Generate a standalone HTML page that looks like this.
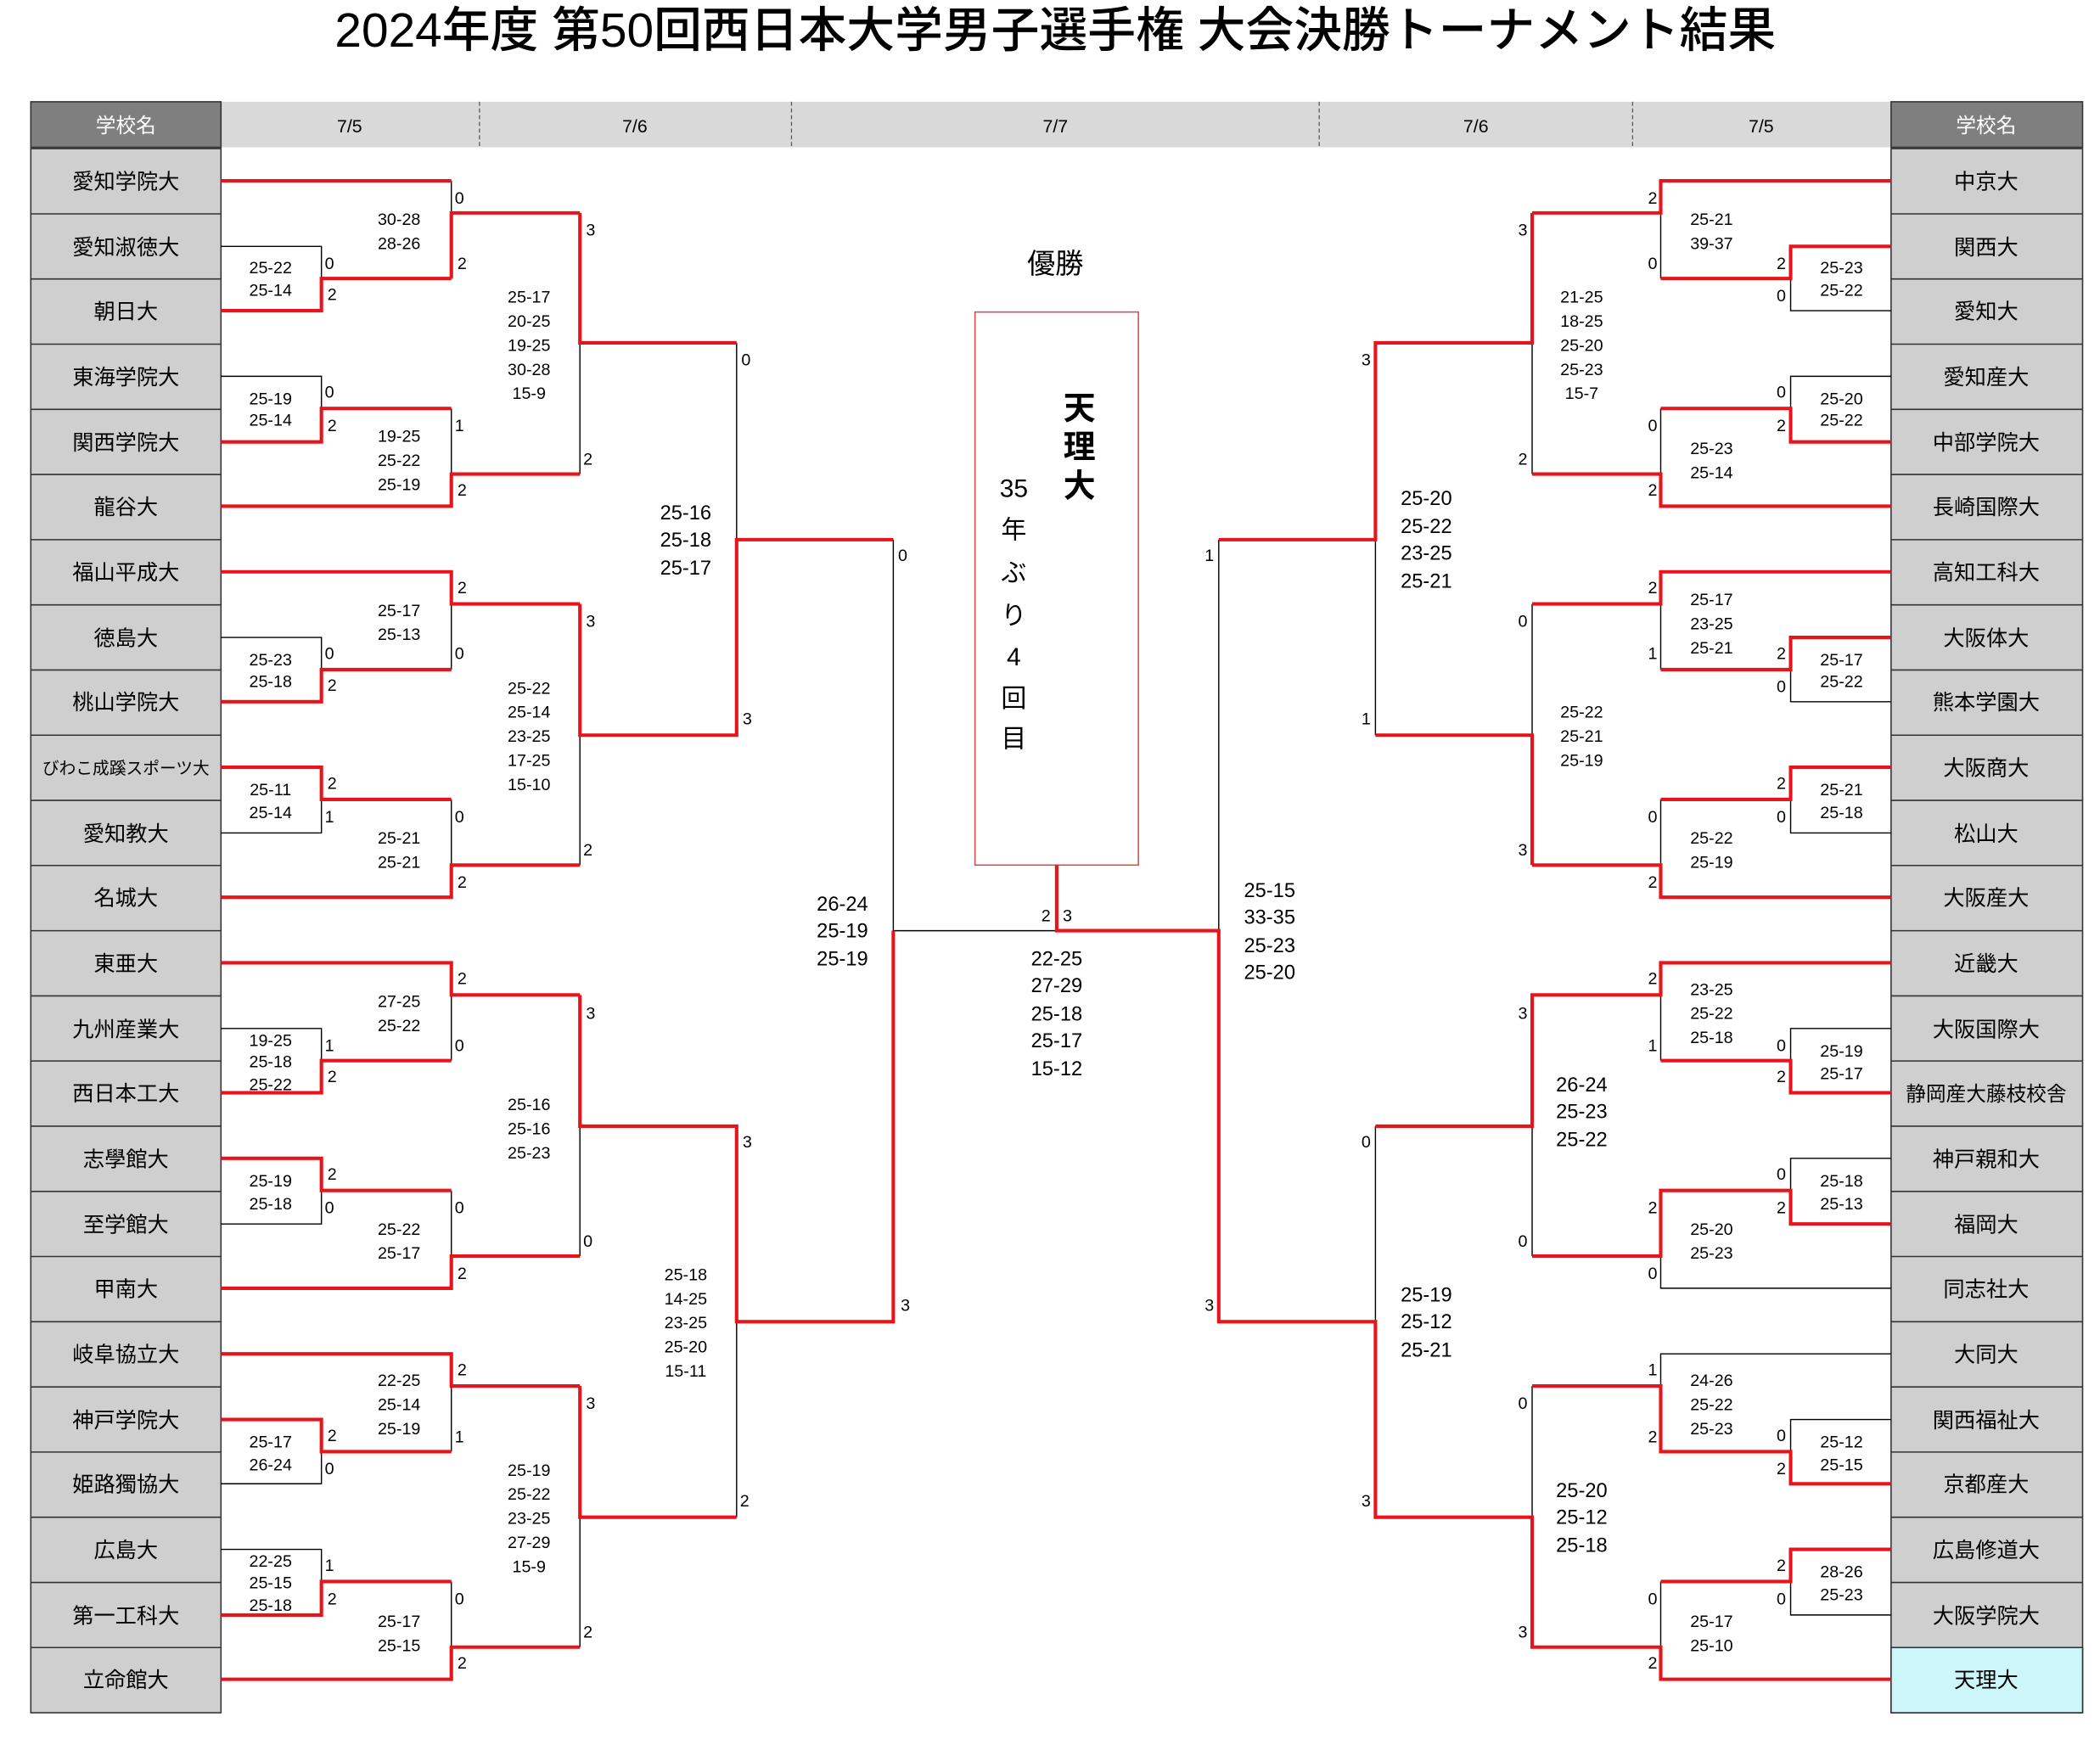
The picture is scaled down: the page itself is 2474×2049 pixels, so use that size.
<!DOCTYPE html>
<html><head><meta charset="utf-8"><style>
html,body{margin:0;padding:0;background:#fff;}
svg{display:block;}
text{font-family:"Liberation Sans","Noto Sans CJK JP",sans-serif;fill:#000;}
.n{font-size:16px;text-anchor:middle;}
.s{font-size:12.5px;text-anchor:middle;}
.m{font-size:15px;text-anchor:middle;}
.h{font-size:13.5px;text-anchor:middle;}
</style></head><body>
<svg width="2474" height="2049" viewBox="0 0 1568 1298.6" preserveAspectRatio="none" xmlns="http://www.w3.org/2000/svg">
<text x="788" y="35" style="font-size:36px;text-anchor:middle;font-weight:500">2024年度 第50回西日本大学男子選手権 大会決勝トーナメント結果</text>
<!-- header -->
<rect x="165" y="76" width="1247" height="34" fill="#d9d9d9"/>
<g stroke="#555" stroke-width="0.8" stroke-dasharray="3,2">
<line x1="358" y1="76" x2="358" y2="110"/><line x1="591" y1="76" x2="591" y2="110"/>
<line x1="985" y1="76" x2="985" y2="110"/><line x1="1219" y1="76" x2="1219" y2="110"/>
</g>
<text class="h" x="261" y="99">7/5</text><text class="h" x="474" y="99">7/6</text><text class="h" x="788" y="99">7/7</text><text class="h" x="1102" y="99">7/6</text><text class="h" x="1315" y="99">7/5</text>
<rect x="23" y="76" width="142" height="34" fill="#7f7f7f" stroke="#333" stroke-width="1"/>
<rect x="1412" y="76" width="143" height="34" fill="#7f7f7f" stroke="#333" stroke-width="1"/>
<text x="94" y="99" style="font-size:15px;text-anchor:middle;fill:#fff">学校名</text>
<text x="1483" y="99" style="font-size:15px;text-anchor:middle;fill:#fff">学校名</text>
<!-- name cells -->
<g fill="#cfcfcf" stroke="#333" stroke-width="1">
<rect x="23" y="111" width="142" height="1168"/>
<rect x="1412" y="111" width="143" height="1168"/>
</g>
<rect x="1412" y="1230.3" width="143" height="48.7" fill="#ccf6fa" stroke="#333" stroke-width="1"/>
<g stroke="#333" stroke-width="1">
<path d="M23 159.7H165M23 208.3H165M23 257H165M23 305.7H165M23 354.3H165M23 403H165M23 451.7H165M23 500.3H165M23 549H165M23 597.7H165M23 646.3H165M23 695H165M23 743.7H165M23 792.3H165M23 841H165M23 889.7H165M23 938.3H165M23 987H165M23 1035.7H165M23 1084.3H165M23 1133H165M23 1181.7H165M23 1230.3H165"/>
<path d="M1412 159.7H1555M1412 208.3H1555M1412 257H1555M1412 305.7H1555M1412 354.3H1555M1412 403H1555M1412 451.7H1555M1412 500.3H1555M1412 549H1555M1412 597.7H1555M1412 646.3H1555M1412 695H1555M1412 743.7H1555M1412 792.3H1555M1412 841H1555M1412 889.7H1555M1412 938.3H1555M1412 987H1555M1412 1035.7H1555M1412 1084.3H1555M1412 1133H1555M1412 1181.7H1555M1412 1230.3H1555"/>
</g>
<g class="n">
<text class="n" x="94" y="141">愛知学院大</text>
<text class="n" x="94" y="190">愛知淑徳大</text>
<text class="n" x="94" y="238">朝日大</text>
<text class="n" x="94" y="287">東海学院大</text>
<text class="n" x="94" y="336">関西学院大</text>
<text class="n" x="94" y="384">龍谷大</text>
<text class="n" x="94" y="433">福山平成大</text>
<text class="n" x="94" y="482">徳島大</text>
<text class="n" x="94" y="530">桃山学院大</text>
<text x="94" y="578" style="font-size:12.5px;text-anchor:middle">びわこ成蹊スポーツ大</text>
<text class="n" x="94" y="628">愛知教大</text>
<text class="n" x="94" y="676">名城大</text>
<text class="n" x="94" y="725">東亜大</text>
<text class="n" x="94" y="774">九州産業大</text>
<text class="n" x="94" y="822">西日本工大</text>
<text class="n" x="94" y="871">志學館大</text>
<text class="n" x="94" y="920">至学館大</text>
<text class="n" x="94" y="968">甲南大</text>
<text class="n" x="94" y="1017">岐阜協立大</text>
<text class="n" x="94" y="1066">神戸学院大</text>
<text class="n" x="94" y="1114">姫路獨協大</text>
<text class="n" x="94" y="1163">広島大</text>
<text class="n" x="94" y="1212">第一工科大</text>
<text class="n" x="94" y="1260">立命館大</text>
<text class="n" x="1483" y="141">中京大</text>
<text class="n" x="1483" y="190">関西大</text>
<text class="n" x="1483" y="238">愛知大</text>
<text class="n" x="1483" y="287">愛知産大</text>
<text class="n" x="1483" y="336">中部学院大</text>
<text class="n" x="1483" y="384">長崎国際大</text>
<text class="n" x="1483" y="433">高知工科大</text>
<text class="n" x="1483" y="482">大阪体大</text>
<text class="n" x="1483" y="530">熊本学園大</text>
<text class="n" x="1483" y="579">大阪商大</text>
<text class="n" x="1483" y="628">松山大</text>
<text class="n" x="1483" y="676">大阪産大</text>
<text class="n" x="1483" y="725">近畿大</text>
<text class="n" x="1483" y="774">大阪国際大</text>
<text x="1483" y="822" style="font-size:15px;text-anchor:middle">静岡産大藤枝校舎</text>
<text class="n" x="1483" y="871">神戸親和大</text>
<text class="n" x="1483" y="920">福岡大</text>
<text class="n" x="1483" y="968">同志社大</text>
<text class="n" x="1483" y="1017">大同大</text>
<text class="n" x="1483" y="1066">関西福祉大</text>
<text class="n" x="1483" y="1114">京都産大</text>
<text class="n" x="1483" y="1163">広島修道大</text>
<text class="n" x="1483" y="1212">大阪学院大</text>
<text class="n" x="1483" y="1260">天理大</text>
</g>
<!-- champion box -->
<rect x="728" y="233" width="122" height="413" fill="none" stroke="#d05050" stroke-width="1"/>
<text x="788" y="204" style="font-size:21px;text-anchor:middle">優勝</text>
<g>
<text x="806" y="313" style="font-size:24px;text-anchor:middle;font-weight:bold">天</text>
<text x="806" y="342" style="font-size:24px;text-anchor:middle;font-weight:bold">理</text>
<text x="806" y="371" style="font-size:24px;text-anchor:middle;font-weight:bold">大</text>
</g>
<g>
<text x="757" y="371" style="font-size:19px;text-anchor:middle">35</text>
<text x="757" y="402" style="font-size:19px;text-anchor:middle">年</text>
<text x="757" y="434" style="font-size:19px;text-anchor:middle">ぶ</text>
<text x="757" y="466" style="font-size:19px;text-anchor:middle">り</text>
<text x="757" y="497" style="font-size:19px;text-anchor:middle">4</text>
<text x="757" y="528" style="font-size:19px;text-anchor:middle">回</text>
<text x="757" y="558" style="font-size:19px;text-anchor:middle">目</text>
</g>
<!-- black lines -->
<g fill="none" stroke="#000" stroke-width="0.9">
<path d="M165 184H240V208M337 135V159M165 281H240V305M337 305V354M433 354V256M550 256V403M165 476H240V500M337 500V451M165 622H240V597M337 597V646M433 646V549M165 768H240V792M337 792V743M165 914H240V889M337 889V938M433 938V841M165 1108H240V1084M337 1084V1035M165 1157H240V1181M337 1181V1230M433 1230V1133M550 1133V987M667 403V695H789"/>
<path d="M1412 232H1337V208M1240 208V159M1412 281H1337V305M1240 305V354M1144 354V256M1412 524H1337V500M1240 500V451M1412 622H1337V597M1240 597V646M1144 451V549M1027 549V403M1412 768H1337V792M1240 792V743M1412 865H1337V889M1412 962H1240V938M1144 938V841M1412 1011H1240V1035M1412 1060H1337V1084M1412 1206H1337V1181M1240 1181V1230M1144 1035V1133M1027 841V987M910 403V695"/>
</g>
<!-- red lines -->
<g fill="none" stroke="#e8141a" stroke-width="2.6" stroke-linejoin="miter">
<path d="M165 135H337M165 232H240V208H337M337 208V159H433M165 330H240V305H337M165 378H337V354H433M433 159V256H550M165 427H337V451H433M165 524H240V500H337M165 573H240V597H337M165 670H337V646H433M433 451V549H550V403H667M165 719H337V743H433M165 816H240V792H337M165 865H240V889H337M165 962H337V938H433M433 743V841H550V987H667V695M165 1011H337V1035H433M165 1060H240V1084H337M165 1206H240V1181H337M165 1254H337V1230H433M433 1035V1133H550"/>
<path d="M1412 135H1240V159H1144M1412 184H1337V208H1240M1412 330H1337V305H1240M1412 378H1240V354H1144M1144 159V256H1027V403H910M1412 427H1240V451H1144M1412 476H1337V500H1240M1412 573H1337V597H1240M1412 670H1240V646H1144M1144 646V549H1027M1412 719H1240V743H1144V841H1027M1412 816H1337V792H1240M1412 914H1337V889H1240V938H1144M1412 1108H1337V1084H1240V1035H1144M1412 1157H1337V1181H1240M1412 1254H1240V1230H1144V1133H1027V987H910V695H789V646"/>
</g>
<!-- set counts -->
<g class="s">
<text class="s" x="343" y="152">0</text><text class="s" x="246" y="201">0</text><text class="s" x="248" y="224">2</text><text class="s" x="345" y="201">2</text>
<text class="s" x="246" y="297">0</text><text class="s" x="248" y="322">2</text><text class="s" x="343" y="322">1</text><text class="s" x="345" y="370">2</text>
<text class="s" x="441" y="176">3</text><text class="s" x="439" y="347">2</text>
<text class="s" x="345" y="443">2</text><text class="s" x="246" y="492">0</text><text class="s" x="343" y="492">0</text><text class="s" x="248" y="516">2</text>
<text class="s" x="248" y="589">2</text><text class="s" x="246" y="614">1</text><text class="s" x="343" y="614">0</text><text class="s" x="345" y="663">2</text>
<text class="s" x="441" y="468">3</text><text class="s" x="439" y="639">2</text>
<text class="s" x="557" y="273">0</text><text class="s" x="558" y="541">3</text>
<text class="s" x="345" y="735">2</text><text class="s" x="246" y="785">1</text><text class="s" x="343" y="785">0</text><text class="s" x="248" y="808">2</text>
<text class="s" x="248" y="881">2</text><text class="s" x="246" y="906">0</text><text class="s" x="343" y="906">0</text><text class="s" x="345" y="955">2</text>
<text class="s" x="441" y="761">3</text><text class="s" x="439" y="931">0</text>
<text class="s" x="345" y="1027">2</text><text class="s" x="248" y="1076">2</text><text class="s" x="343" y="1077">1</text><text class="s" x="246" y="1101">0</text>
<text class="s" x="246" y="1173">1</text><text class="s" x="248" y="1198">2</text><text class="s" x="343" y="1198">0</text><text class="s" x="345" y="1246">2</text>
<text class="s" x="441" y="1052">3</text><text class="s" x="439" y="1223">2</text>
<text class="s" x="558" y="857">3</text><text class="s" x="556" y="1125">2</text>
<text class="s" x="674" y="419">0</text><text class="s" x="676" y="979">3</text>
<text class="s" x="781" y="688">2</text><text class="s" x="797" y="688">3</text>
<text class="s" x="1234" y="152">2</text><text class="s" x="1330" y="201">2</text><text class="s" x="1234" y="201">0</text><text class="s" x="1330" y="225">0</text>
<text class="s" x="1330" y="297">0</text><text class="s" x="1330" y="322">2</text><text class="s" x="1234" y="322">0</text><text class="s" x="1234" y="370">2</text>
<text class="s" x="1137" y="176">3</text><text class="s" x="1137" y="347">2</text>
<text class="s" x="1234" y="443">2</text><text class="s" x="1330" y="492">2</text><text class="s" x="1234" y="492">1</text><text class="s" x="1330" y="517">0</text>
<text class="s" x="1330" y="589">2</text><text class="s" x="1330" y="614">0</text><text class="s" x="1234" y="614">0</text><text class="s" x="1234" y="663">2</text>
<text class="s" x="1137" y="468">0</text><text class="s" x="1137" y="639">3</text>
<text class="s" x="1020" y="273">3</text><text class="s" x="1020" y="541">1</text>
<text class="s" x="1234" y="735">2</text><text class="s" x="1330" y="785">0</text><text class="s" x="1234" y="785">1</text><text class="s" x="1330" y="808">2</text>
<text class="s" x="1330" y="881">0</text><text class="s" x="1330" y="906">2</text><text class="s" x="1234" y="906">2</text><text class="s" x="1234" y="955">0</text>
<text class="s" x="1137" y="761">3</text><text class="s" x="1137" y="931">0</text>
<text class="s" x="1234" y="1027">1</text><text class="s" x="1330" y="1076">0</text><text class="s" x="1234" y="1077">2</text><text class="s" x="1330" y="1101">2</text>
<text class="s" x="1330" y="1173">2</text><text class="s" x="1330" y="1198">0</text><text class="s" x="1234" y="1198">0</text><text class="s" x="1234" y="1246">2</text>
<text class="s" x="1137" y="1052">0</text><text class="s" x="1137" y="1223">3</text>
<text class="s" x="1020" y="857">0</text><text class="s" x="1020" y="1125">3</text>
<text class="s" x="903" y="419">1</text><text class="s" x="903" y="979">3</text>
</g>
<!-- scores left -->
<g>
<text class="s" x="202" y="204">25-22</text><text class="s" x="202" y="221">25-14</text>
<text class="s" x="298" y="168">30-28</text><text class="s" x="298" y="186">28-26</text>
<text class="s" x="202" y="302">25-19</text><text class="s" x="202" y="318">25-14</text>
<text class="s" x="298" y="330">19-25</text><text class="s" x="298" y="348">25-22</text><text class="s" x="298" y="366">25-19</text>
<text class="s" x="395" y="226">25-17</text><text class="s" x="395" y="244">20-25</text><text class="s" x="395" y="262">19-25</text><text class="s" x="395" y="280">30-28</text><text class="s" x="395" y="298">15-9</text>
<text class="s" x="202" y="497">25-23</text><text class="s" x="202" y="513">25-18</text>
<text class="s" x="298" y="460">25-17</text><text class="s" x="298" y="478">25-13</text>
<text class="s" x="202" y="594">25-11</text><text class="s" x="202" y="611">25-14</text>
<text class="s" x="298" y="630">25-21</text><text class="s" x="298" y="648">25-21</text>
<text class="s" x="395" y="518">25-22</text><text class="s" x="395" y="536">25-14</text><text class="s" x="395" y="554">23-25</text><text class="s" x="395" y="572">17-25</text><text class="s" x="395" y="590">15-10</text>
<text class="m" x="512" y="388">25-16</text><text class="m" x="512" y="408">25-18</text><text class="m" x="512" y="429">25-17</text>
<text class="s" x="202" y="781">19-25</text><text class="s" x="202" y="797">25-18</text><text class="s" x="202" y="814">25-22</text>
<text class="s" x="298" y="752">27-25</text><text class="s" x="298" y="770">25-22</text>
<text class="s" x="202" y="886">25-19</text><text class="s" x="202" y="903">25-18</text>
<text class="s" x="298" y="922">25-22</text><text class="s" x="298" y="940">25-17</text>
<text class="s" x="395" y="829">25-16</text><text class="s" x="395" y="847">25-16</text><text class="s" x="395" y="865">25-23</text>
<text class="s" x="202" y="1081">25-17</text><text class="s" x="202" y="1098">26-24</text>
<text class="s" x="298" y="1035">22-25</text><text class="s" x="298" y="1053">25-14</text><text class="s" x="298" y="1071">25-19</text>
<text class="s" x="202" y="1170">22-25</text><text class="s" x="202" y="1186">25-15</text><text class="s" x="202" y="1203">25-18</text>
<text class="s" x="298" y="1215">25-17</text><text class="s" x="298" y="1233">25-15</text>
<text class="s" x="395" y="1102">25-19</text><text class="s" x="395" y="1120">25-22</text><text class="s" x="395" y="1138">23-25</text><text class="s" x="395" y="1156">27-29</text><text class="s" x="395" y="1174">15-9</text>
<text class="s" x="512" y="956">25-18</text><text class="s" x="512" y="974">14-25</text><text class="s" x="512" y="992">23-25</text><text class="s" x="512" y="1010">25-20</text><text class="s" x="512" y="1028">15-11</text>
<text class="m" x="629" y="680">26-24</text><text class="m" x="629" y="700">25-19</text><text class="m" x="629" y="721">25-19</text>
<text class="m" x="789" y="721">22-25</text><text class="m" x="789" y="741">27-29</text><text class="m" x="789" y="762">25-18</text><text class="m" x="789" y="782">25-17</text><text class="m" x="789" y="803">15-12</text>
</g>
<!-- scores right -->
<g>
<text class="s" x="1375" y="204">25-23</text><text class="s" x="1375" y="221">25-22</text>
<text class="s" x="1278" y="168">25-21</text><text class="s" x="1278" y="186">39-37</text>
<text class="s" x="1375" y="302">25-20</text><text class="s" x="1375" y="318">25-22</text>
<text class="s" x="1278" y="339">25-23</text><text class="s" x="1278" y="357">25-14</text>
<text class="s" x="1181" y="226">21-25</text><text class="s" x="1181" y="244">18-25</text><text class="s" x="1181" y="262">25-20</text><text class="s" x="1181" y="280">25-23</text><text class="s" x="1181" y="298">15-7</text>
<text class="s" x="1375" y="497">25-17</text><text class="s" x="1375" y="513">25-22</text>
<text class="s" x="1278" y="452">25-17</text><text class="s" x="1278" y="470">23-25</text><text class="s" x="1278" y="488">25-21</text>
<text class="s" x="1375" y="594">25-21</text><text class="s" x="1375" y="611">25-18</text>
<text class="s" x="1278" y="630">25-22</text><text class="s" x="1278" y="648">25-19</text>
<text class="s" x="1181" y="536">25-22</text><text class="s" x="1181" y="554">25-21</text><text class="s" x="1181" y="572">25-19</text>
<text class="m" x="1065" y="377">25-20</text><text class="m" x="1065" y="398">25-22</text><text class="m" x="1065" y="418">23-25</text><text class="m" x="1065" y="439">25-21</text>
<text class="s" x="1375" y="789">25-19</text><text class="s" x="1375" y="806">25-17</text>
<text class="s" x="1278" y="743">23-25</text><text class="s" x="1278" y="761">25-22</text><text class="s" x="1278" y="779">25-18</text>
<text class="s" x="1375" y="886">25-18</text><text class="s" x="1375" y="903">25-13</text>
<text class="s" x="1278" y="922">25-20</text><text class="s" x="1278" y="940">25-23</text>
<text class="m" x="1181" y="815">26-24</text><text class="m" x="1181" y="835">25-23</text><text class="m" x="1181" y="856">25-22</text>
<text class="s" x="1375" y="1081">25-12</text><text class="s" x="1375" y="1098">25-15</text>
<text class="s" x="1278" y="1035">24-26</text><text class="s" x="1278" y="1053">25-22</text><text class="s" x="1278" y="1071">25-23</text>
<text class="s" x="1375" y="1178">28-26</text><text class="s" x="1375" y="1195">25-23</text>
<text class="s" x="1278" y="1215">25-17</text><text class="s" x="1278" y="1233">25-10</text>
<text class="m" x="1181" y="1118">25-20</text><text class="m" x="1181" y="1138">25-12</text><text class="m" x="1181" y="1159">25-18</text>
<text class="m" x="1065" y="972">25-19</text><text class="m" x="1065" y="992">25-12</text><text class="m" x="1065" y="1013">25-21</text>
<text class="m" x="948" y="670">25-15</text><text class="m" x="948" y="690">33-35</text><text class="m" x="948" y="711">25-23</text><text class="m" x="948" y="731">25-20</text>
</g>
</svg>
</body></html>
